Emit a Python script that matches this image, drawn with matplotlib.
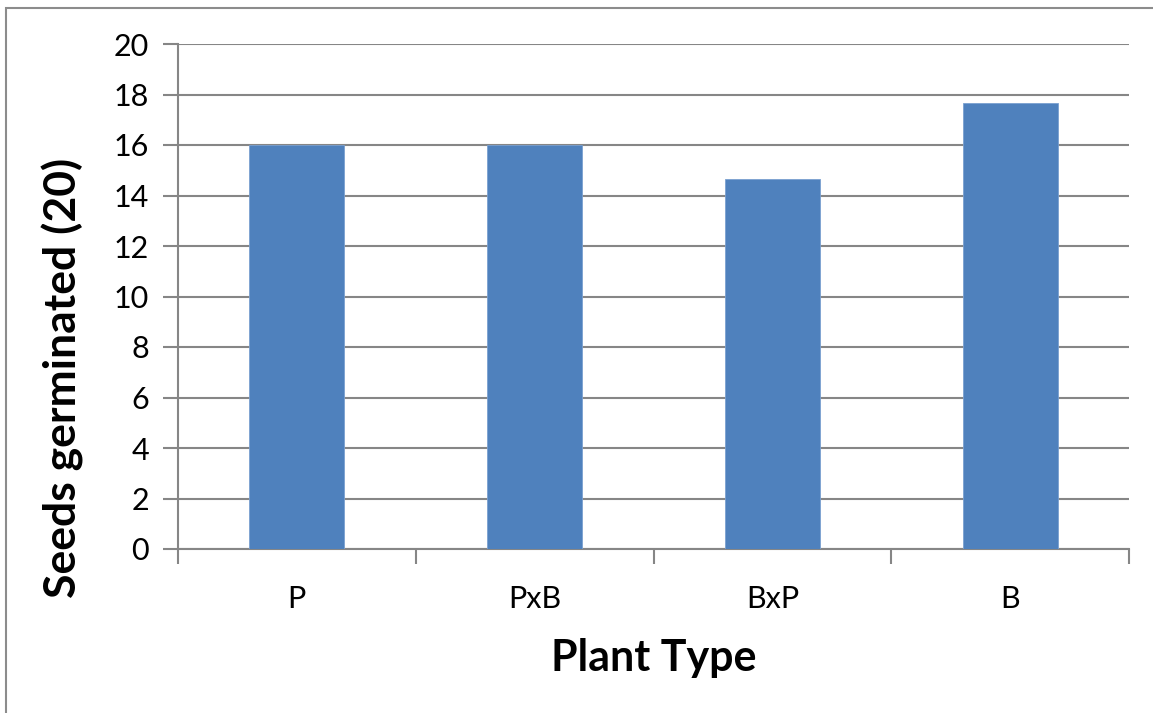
import matplotlib
matplotlib.use("Agg")
import matplotlib.pyplot as plt
from matplotlib.patches import Rectangle

categories = ["P", "PxB", "BxP", "B"]
values = [16, 16, 14.67, 17.67]
yticks = [0, 2, 4, 6, 8, 10, 12, 14, 16, 18, 20]

plt.rcParams['font.family'] = ['Lato', 'DejaVu Sans']

fig = plt.figure(figsize=(11.53, 7.13), dpi=100)
W, H = 1153, 713
ax = fig.add_axes([178 / W, 1 - 549 / H, (1129 - 178) / W, (549 - 44) / H])

# outer chart border (left/top visible)
fig.patches.append(Rectangle((6 / W, -0.1), 1.2, 1 - 8 / H + 0.1, transform=fig.transFigure,
                             fill=False, edgecolor='#8c8c8c', linewidth=1.5))

x = range(len(categories))
ax.bar(x, values, width=0.4, color='#4F81BD', edgecolor='#7aa0d0', linewidth=0.6, zorder=3)

ax.set_xlim(-0.5, len(categories) - 0.5)
ax.set_ylim(0, 20)
ax.set_yticks(yticks)
ax.set_yticklabels([str(t) for t in yticks], fontsize=22)
ax.set_xticks(list(x))
ax.set_xticklabels(categories, fontsize=22)
ax.tick_params(axis='x', length=0, pad=26)
ax.tick_params(axis='y', length=11, width=1.5, color='#868686', pad=10)

# category boundary ticks on x axis
ax.set_xticks([i - 0.5 for i in range(len(categories) + 1)], minor=True)
ax.tick_params(axis='x', which='minor', length=11, width=1.5, color='#868686')

ax.yaxis.grid(True, color='#868686', linewidth=1.5, zorder=0)
ax.set_axisbelow(True)
for s in ['top', 'right']:
    ax.spines[s].set_visible(False)
for s in ['left', 'bottom']:
    ax.spines[s].set_color('#868686')
    ax.spines[s].set_linewidth(1.5)

ax.set_xlabel("Plant Type", fontsize=31, fontweight='bold', labelpad=18)
ax.set_ylabel("Seeds germinated (20)", fontsize=32, fontweight='bold',
              va='center', ha='center')
ax.yaxis.set_label_coords((63 - 178) / (1129 - 178), (549 - 378) / (549 - 44))

fig.savefig("out.png", dpi=100, facecolor='white')
